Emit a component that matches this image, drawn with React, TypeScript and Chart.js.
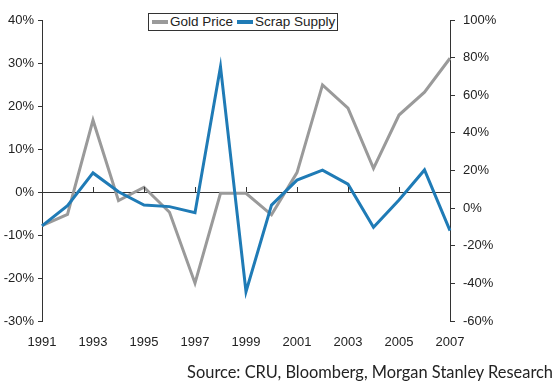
import React, { useEffect, useRef } from "react";
import { Chart, registerables } from "chart.js";

Chart.register(...registerables);

const years = ["1991","1992","1993","1994","1995","1996","1997","1998","1999","2000","2001","2002","2003","2004","2005","2006","2007"];
const goldPrice = [-7.8, -5.2, 16.7, -2.0, 1.1, -4.7, -21.2, -0.3, -0.3, -5.3, 4.5, 24.9, 19.5, 5.5, 17.9, 23.2, 31.1];
const scrapSupply = [-9.4, 1.3, 18.7, 8.7, 1.6, 0.8, -2.4, 75.2, -44.4, 1.6, 14.9, 20.2, 12.7, -10.2, 4.3, 20.3, -12.0];
const seriesNames = ["Gold Price", "Scrap Supply"];
const sourceText = "Source: CRU, Bloomberg, Morgan Stanley Research";

const GOLD = "#9a9a9a";
const BLUE = "#1f7bb6";
const AXIS = "#333333";
const TEXT = "#222222";
const FONT = "'Liberation Sans', Arial, sans-serif";

const zeroTicks = {
  id: "zeroTicks",
  afterDatasetsDraw(chart: any) {
    const { ctx } = chart;
    const x = chart.scales.x;
    const y = chart.scales.y;
    const y0 = y.getPixelForValue(0);
    ctx.save();
    ctx.strokeStyle = AXIS;
    ctx.lineWidth = 1;
    ctx.beginPath();
    years.forEach((_, i) => {
      if (i % 2 === 0) {
        const px = Math.round(x.getPixelForValue(i)) + 0.5;
        ctx.moveTo(px, y0 - 5);
        ctx.lineTo(px, y0);
      }
    });
    ctx.stroke();
    ctx.restore();
  },
};

export default function App() {
  const ref = useRef<HTMLCanvasElement | null>(null);

  useEffect(() => {
    const canvas = ref.current;
    if (!canvas) return;
    const chart = new Chart(canvas, {
      type: "line",
      data: {
        labels: years,
        datasets: [
          {
            label: seriesNames[0],
            data: goldPrice,
            borderColor: GOLD,
            backgroundColor: GOLD,
            borderWidth: 3,
            pointRadius: 0,
            tension: 0,
            yAxisID: "y",
            order: 1,
          },
          {
            label: seriesNames[1],
            data: scrapSupply,
            borderColor: BLUE,
            backgroundColor: BLUE,
            borderWidth: 3,
            pointRadius: 0,
            tension: 0,
            yAxisID: "y1",
            order: 0,
          },
        ],
      },
      options: {
        animation: false,
        responsive: false,
        maintainAspectRatio: false,
        layout: { padding: { top: 20, left: 0, right: 0, bottom: 0 } },
        plugins: {
          legend: { display: false },
          tooltip: { enabled: false },
        },
        scales: {
          x: {
            type: "category",
            offset: false,
            grid: { display: false, drawTicks: false },
            border: { display: false },
            ticks: {
              autoSkip: false,
              maxRotation: 0,
              padding: 14,
              color: TEXT,
              font: { family: FONT, size: 13 },
              callback: (_v: any, i: number) => (i % 2 === 0 ? years[i] : ""),
            },
            afterFit: (s: any) => {
              s.height = 64;
            },
          },
          y: {
            position: "left",
            min: -30,
            max: 40,
            ticks: {
              stepSize: 10,
              padding: 4,
              color: TEXT,
              font: { family: FONT, size: 13 },
              callback: (v: any) => v + "%",
            },
            grid: {
              color: (c: any) => (c.tick && c.tick.value === 0 ? AXIS : "rgba(0,0,0,0)"),
              tickColor: AXIS,
              tickLength: 4,
              lineWidth: 1,
            },
            border: { display: true, color: AXIS, width: 1 },
            afterFit: (s: any) => {
              s.width = 42;
            },
          },
          y1: {
            position: "right",
            min: -60,
            max: 100,
            ticks: {
              stepSize: 20,
              padding: 8,
              color: TEXT,
              font: { family: FONT, size: 13 },
              callback: (v: any) => v + "%",
            },
            grid: {
              drawOnChartArea: false,
              tickColor: AXIS,
              tickLength: 5,
            },
            border: { display: true, color: AXIS, width: 1 },
            afterFit: (s: any) => {
              s.width = 109;
            },
          },
        },
      },
      plugins: [zeroTicks],
    });
    return () => chart.destroy();
  }, []);

  const legendItem = (name: string, color: string) => (
    <span style={{ display: "inline-flex", alignItems: "center", marginRight: 4 }}>
      <span style={{ display: "inline-block", width: 16, height: 4, background: color, marginRight: 2 }} />
      <span>{name}</span>
    </span>
  );

  return (
    <div style={{ position: "fixed", left: 0, top: 0, width: 559, height: 385, background: "#fff" }}>
      <canvas ref={ref} width={559} height={385} style={{ position: "absolute", left: 0, top: 0, width: 559, height: 385 }} />
      <div
        style={{
          position: "absolute",
          left: 148,
          top: 13,
          width: 190,
          height: 18,
          border: `1px solid ${AXIS}`,
          background: "#fff",
          fontFamily: FONT,
          fontSize: 13.5,
          color: TEXT,
          display: "flex",
          alignItems: "center",
          paddingLeft: 3,
          boxSizing: "border-box",
          whiteSpace: "nowrap",
          lineHeight: "16px",
        }}
      >
        {legendItem(seriesNames[0], GOLD)}
        {legendItem(seriesNames[1], BLUE)}
      </div>
      <div
        style={{
          position: "absolute",
          right: 6,
          top: 362,
          fontFamily: "Lato, sans-serif",
          fontSize: 16.4,
          color: TEXT,
          whiteSpace: "nowrap",
          lineHeight: "20px",
        }}
      >
        {sourceText}
      </div>
    </div>
  );
}
